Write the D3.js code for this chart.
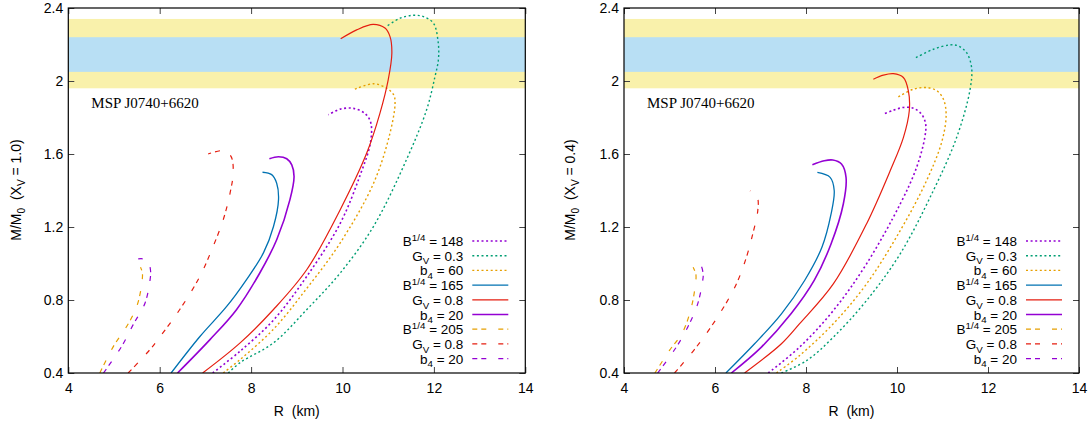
<!DOCTYPE html>
<html>
<head>
<meta charset="utf-8">
<script src="https://cdn.jsdelivr.net/npm/d3@7"></script>
<style>
  body { margin: 0; background: #fff; }
  svg text { font-family: "Liberation Sans", Arial, sans-serif; fill: #000; }
  .tick line { stroke: #444; }
  .domain { display: none; }
</style>
</head>
<body>
<script>
// mass-radius curves [R (km), M/M0]
// left panel: X_V = 1.0
const xv10_B148 = [[7.16,0.40],[7.76,0.52],[8.49,0.69],[9.22,0.93],[9.95,1.22],[10.38,1.48],[10.61,1.66],[10.62,1.77],[10.50,1.82],[10.24,1.85],[9.95,1.846],[9.69,1.815]];
const xv10_Gv03 = [[7.50,0.40],[7.76,0.457],[8.49,0.565],[9.22,0.748],[9.95,0.948],[10.68,1.204],[11.40,1.569],[11.84,1.842],[12.02,2.02],[12.10,2.12],[12.09,2.22],[11.99,2.317],[11.77,2.353],[11.55,2.36],[11.26,2.344],[10.97,2.30]];
const xv10_b60  = [[7.39,0.40],[7.76,0.474],[8.49,0.64],[9.22,0.864],[9.95,1.113],[10.68,1.44],[11.04,1.715],[11.15,1.879],[11.12,1.924],[10.97,1.96],[10.68,1.985],[10.27,1.955]];
const xv10_B165 = [[6.25,0.40],[6.88,0.60],[7.47,0.766],[7.90,0.912],[8.27,1.058],[8.49,1.203],[8.60,1.35],[8.56,1.44],[8.45,1.487],[8.25,1.50]];
const xv10_Gv08 = [[6.94,0.40],[7.76,0.565],[8.49,0.748],[9.22,0.967],[9.95,1.295],[10.53,1.605],[10.82,1.824],[11.00,2.006],[11.08,2.152],[11.04,2.243],[10.93,2.29],[10.67,2.31],[10.31,2.28],[9.96,2.231]];
const xv10_b20  = [[6.39,0.40],[7.10,0.583],[7.68,0.747],[8.19,0.948],[8.56,1.13],[8.85,1.35],[8.94,1.477],[8.89,1.54],[8.78,1.574],[8.60,1.585],[8.40,1.574]];
const xv10_B205 = [[4.69,0.40],[4.99,0.547],[5.28,0.656],[5.50,0.766],[5.61,0.894],[5.62,0.95],[5.58,0.98]];
const xv10_Gv08d = [[5.31,0.40],[5.79,0.529],[6.01,0.60],[6.44,0.748],[6.88,0.93],[7.17,1.094],[7.39,1.24],[7.54,1.386],[7.61,1.505],[7.56,1.587],[7.40,1.618],[7.06,1.60]];
const xv10_b20d = [[4.77,0.40],[5.17,0.547],[5.42,0.665],[5.68,0.784],[5.79,0.912],[5.80,0.96],[5.75,1.007],[5.64,1.025],[5.53,1.025]];

// right panel: X_V = 0.4
const xv04_B148 = [[7.17,0.40],[7.86,0.542],[8.60,0.742],[9.33,0.998],[10.07,1.326],[10.43,1.526],[10.61,1.69],[10.63,1.764],[10.54,1.818],[10.36,1.851],[10.14,1.855],[9.92,1.84],[9.70,1.818]];
const xv04_Gv03 = [[7.46,0.40],[8.02,0.469],[8.60,0.596],[9.33,0.797],[10.07,1.053],[10.80,1.40],[11.31,1.69],[11.60,1.946],[11.64,2.073],[11.53,2.155],[11.35,2.192],[11.17,2.198],[10.80,2.174],[10.39,2.125]];
const xv04_b60  = [[7.35,0.40],[7.86,0.496],[8.60,0.67],[9.33,0.888],[10.07,1.18],[10.65,1.454],[10.99,1.672],[11.08,1.818],[11.02,1.90],[10.88,1.946],[10.65,1.964],[10.36,1.955],[10.03,1.913]];
const xv04_B165 = [[6.24,0.40],[6.87,0.56],[7.46,0.724],[7.97,0.907],[8.35,1.089],[8.55,1.27],[8.62,1.40],[8.53,1.472],[8.25,1.499]];
const xv04_Gv08 = [[6.65,0.40],[7.46,0.56],[7.86,0.67],[8.60,0.888],[9.33,1.217],[9.85,1.508],[10.14,1.69],[10.27,1.837],[10.25,1.946],[10.14,2.019],[9.92,2.04],[9.70,2.032],[9.48,2.01]];
const xv04_b20  = [[6.36,0.40],[7.02,0.542],[7.67,0.724],[8.18,0.907],[8.55,1.107],[8.82,1.326],[8.88,1.472],[8.78,1.545],[8.59,1.567],[8.40,1.563],[8.14,1.541]];
const xv04_B205 = [[4.68,0.40],[5.00,0.524],[5.29,0.624],[5.48,0.76],[5.57,0.888],[5.58,0.94],[5.52,0.98]];
const xv04_Gv08d = [[5.11,0.40],[5.59,0.542],[6.10,0.724],[6.47,0.888],[6.69,1.034],[6.83,1.162],[6.94,1.29],[6.93,1.362],[6.77,1.399]];
const xv04_b20d = [[4.74,0.40],[5.15,0.542],[5.40,0.651],[5.62,0.779],[5.73,0.907],[5.74,0.94],[5.69,0.989],[5.59,1.003],[5.50,1.003]];

const legendLabels = ['B^{1/4} = 148', 'G_{V} = 0.3', 'b_{4} = 60',
                      'B^{1/4} = 165', 'G_{V} = 0.8', 'b_{4} = 20',
                      'B^{1/4} = 205', 'G_{V} = 0.8', 'b_{4} = 20'];
const xTicks = [4, 6, 8, 10, 12, 14];
const yTicks = [0.4, 0.8, 1.2, 1.6, 2, 2.4];
const bandOuter = [1.96, 2.34];   // J0740+6620 95%
const bandInner = [2.05, 2.24];   // 68%
const sourceName = 'MSP J0740+6620';

// styles, same order as legend
const colors = ['#9400d3', '#009e73', '#e69f00', '#0072b2', '#e51e10', '#9400d3', '#e69f00', '#e51e10', '#9400d3'];
const dashes = ['2,2.6', '2,2.6', '2,2.6', null, null, null, '5,4,5,12', '5,4,5,12', '5,4,5,12'];
const widths = [1.6, 1.4, 1.4, 1.3, 1.2, 1.6, 1.2, 1.2, 1.2];

const panels = [
  { left: 68.3, right: 525.3, xv: '1.0', series: [xv10_B148, xv10_Gv03, xv10_b60, xv10_B165, xv10_Gv08, xv10_b20, xv10_B205, xv10_Gv08d, xv10_b20d], ylabX: 16 },
  { left: 624, right: 1079, xv: '0.4', series: [xv04_B148, xv04_Gv03, xv04_b60, xv04_B165, xv04_Gv08, xv04_b20, xv04_B205, xv04_Gv08d, xv04_b20d], ylabX: 570 }
];
const plotTop = 8, plotBottom = 373;

const svg = d3.select('body').append('svg')
  .attr('width', 1091)
  .attr('height', 424);

// write text with ^{..} and _{..} parts
function richText(sel, str, size) {
  const parts = [];
  const re = /([_^])\{([^}]*)\}/g;
  let last = 0, m;
  while ((m = re.exec(str)) !== null) {
    if (m.index > last) parts.push({ t: str.slice(last, m.index), s: 0 });
    parts.push({ t: m[2], s: m[1] === '^' ? -0.4 : 0.28 });
    last = re.lastIndex;
  }
  if (last < str.length) parts.push({ t: str.slice(last), s: 0 });
  let cur = 0;
  parts.forEach(p => {
    const off = p.s * size;
    sel.append('tspan')
      .attr('dy', off - cur)
      .attr('font-size', p.s ? size * 0.72 : size)
      .text(p.t);
    cur = off;
  });
}

panels.forEach((p, pi) => {
  const x = d3.scaleLinear().domain([4, 14]).range([p.left, p.right]);
  const y = d3.scaleLinear().domain([0.4, 2.4]).range([plotBottom, plotTop]);
  const w = p.right - p.left, h = plotBottom - plotTop;

  const g = svg.append('g');

  g.append('clipPath').attr('id', 'clip' + pi)
    .append('rect').attr('x', p.left).attr('y', plotTop).attr('width', w).attr('height', h);

  // mass bands
  g.append('rect')
    .attr('x', p.left).attr('width', w)
    .attr('y', y(bandOuter[1])).attr('height', y(bandOuter[0]) - y(bandOuter[1]))
    .attr('fill', '#f9f1ab');
  g.append('rect')
    .attr('x', p.left).attr('width', w)
    .attr('y', y(bandInner[1])).attr('height', y(bandInner[0]) - y(bandInner[1]))
    .attr('fill', '#b8dff4');

  g.append('text')
    .attr('x', p.left + 23).attr('y', 108)
    .style('font-family', '"Liberation Serif", "Times New Roman", serif')
    .attr('font-size', 15)
    .text(sourceName);

  // axes, ticks inward and mirrored like gnuplot
  g.append('g').attr('transform', `translate(0,${plotBottom})`)
    .call(d3.axisBottom(x).tickValues(xTicks).tickSizeInner(-6).tickSizeOuter(0).tickPadding(10))
    .attr('font-size', 14).attr('font-family', null);
  g.append('g').attr('transform', `translate(0,${plotTop})`)
    .call(d3.axisTop(x).tickValues(xTicks).tickSizeInner(-6).tickSizeOuter(0).tickFormat(''));
  g.append('g').attr('transform', `translate(${p.left},0)`)
    .call(d3.axisLeft(y).tickValues(yTicks).tickSizeInner(-6).tickSizeOuter(0).tickPadding(5).tickFormat(d3.format('~g')))
    .attr('font-size', 14).attr('font-family', null);
  g.append('g').attr('transform', `translate(${p.right},0)`)
    .call(d3.axisRight(y).tickValues(yTicks).tickSizeInner(-6).tickSizeOuter(0).tickFormat(''));

  const line = d3.line()
    .x(d => x(d[0]))
    .y(d => y(d[1]))
    .curve(d3.curveCatmullRom.alpha(0.5));

  g.append('g').attr('clip-path', `url(#clip${pi})`)
    .selectAll('path')
    .data(p.series)
    .join('path')
    .attr('d', line)
    .attr('fill', 'none')
    .attr('stroke', (d, i) => colors[i])
    .attr('stroke-width', (d, i) => widths[i])
    .attr('stroke-dasharray', (d, i) => dashes[i]);

  g.append('rect')
    .attr('x', p.left).attr('y', plotTop).attr('width', w).attr('height', h)
    .attr('fill', 'none').attr('stroke', '#000').attr('stroke-width', 1.2);

  // legend
  const leg = g.append('g');
  legendLabels.forEach((lab, i) => {
    const cy = 241 + i * 14.7;
    const t = leg.append('text')
      .attr('x', p.right - 62).attr('y', cy + 5)
      .attr('text-anchor', 'end');
    richText(t, lab, 13.5);
    leg.append('line')
      .attr('x1', p.right - 53).attr('x2', p.right - 17)
      .attr('y1', cy).attr('y2', cy)
      .attr('stroke', colors[i])
      .attr('stroke-width', widths[i])
      .attr('stroke-dasharray', dashes[i]);
  });

  // axis titles
  g.append('text')
    .attr('x', (p.left + p.right) / 2).attr('y', 416)
    .attr('text-anchor', 'middle').attr('font-size', 14)
    .style('white-space', 'pre')
    .text('R  (km)');

  const yt = g.append('text')
    .attr('transform', `translate(${p.ylabX + 5},190) rotate(-90)`)
    .attr('text-anchor', 'middle')
    .style('white-space', 'pre');
  richText(yt, `M/M_{0}  (X_{V} = ${p.xv})`, 14);
});
</script>
</body>
</html>
